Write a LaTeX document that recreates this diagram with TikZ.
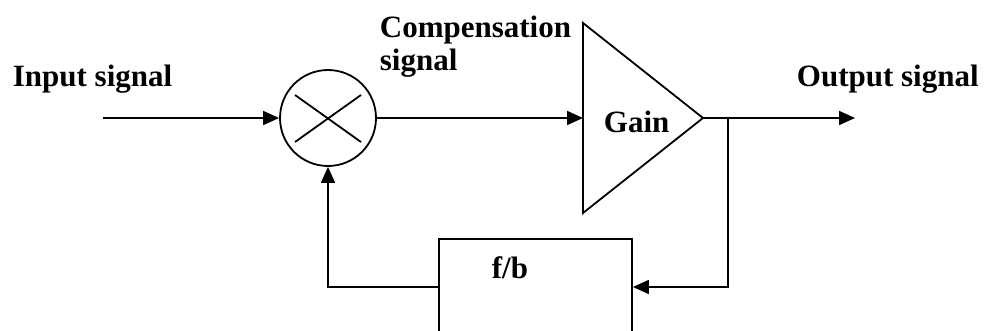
\documentclass[tikz,border=0pt]{standalone}
\usepackage{fontspec}
\setmainfont{Liberation Serif}
\usetikzlibrary{arrows.meta}
\begin{document}
\begin{tikzpicture}[x=1pt,y=-1pt,
  line width=1.8pt,
  arr/.style={-{Triangle[length=16pt,width=14pt]}},
  lbl/.style={font=\fontsize{31}{36}\selectfont\bfseries, inner sep=0pt, anchor=base west}]
\useasboundingbox (0,0) rectangle (984,331);
\clip (0,0) rectangle (984,331);
% multiplier
\node[circle, draw, minimum size=96pt, inner sep=0pt] (mix) at (328,118) {};
\draw (295,95) -- (361,142);
\draw (295,142) -- (361,95);
% gain triangle
\coordinate (ta) at (583,23);
\coordinate (tb) at (583,213);
\coordinate (tc) at (703,118);
\coordinate (gin) at (583,118);
\draw (ta) -- (tc) -- (tb) -- cycle;
\node[lbl] (gain) at (603,133) {Gain};
% feedback box
\node[draw, minimum width=193pt, minimum height=96pt, inner sep=0pt] (fb) at (535.5,287) {};
\node[lbl] (fbl) at (491,278) {f/b};
% labels
\node[lbl] (inl) at (12,87) {Input signal};
\node[lbl] (outl) at (796,87) {Output signal};
\node[lbl] (comp1) at (379,38) {Compensation};
\node[lbl] (comp2) at (379,71) {signal};
% connectors
\coordinate (in) at (103,118);
\coordinate (out) at (855,118);
\coordinate (br) at (728,118);
\draw[arr] (in) -- (mix.west);
\draw[arr] (mix.east) -- (gin);
\draw[arr] (tc) -- (out);
\draw[arr] (br) |- (fb.east);
\draw[arr] (fb.west) -| (mix.south);
\end{tikzpicture}
\end{document}
